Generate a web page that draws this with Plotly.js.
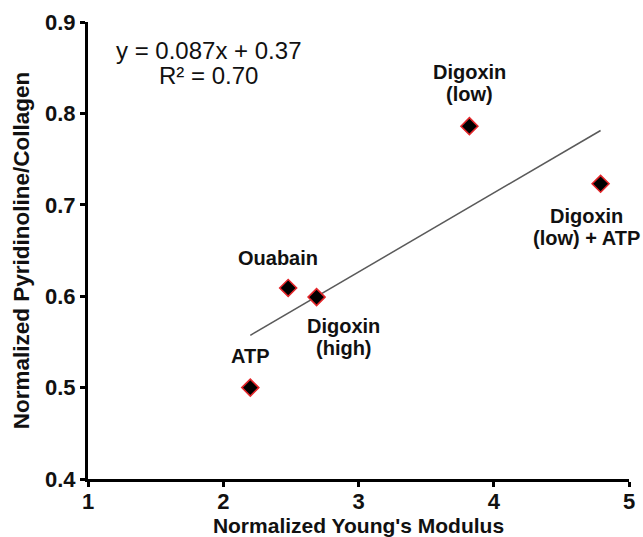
<!DOCTYPE html>
<html>
<head>
<meta charset="utf-8">
<script src="https://cdn.plot.ly/plotly-3.0.1.min.js"></script>
<style>html,body{margin:0;padding:0;background:#fff;}#chart{width:643px;height:537px;}</style>
</head>
<body>
<div id="chart"></div>
<script>
// Data
const conditions = ["ATP", "Ouabain", "Digoxin\n(high)", "Digoxin\n(low)", "Digoxin\n(low) + ATP"];
const youngsModulus = [2.20, 2.48, 2.69, 3.82, 4.79];
const pyridinoline = [0.500, 0.609, 0.599, 0.786, 0.723];
const xTicks = [1, 2, 3, 4, 5];
const yTicks = [0.4, 0.5, 0.6, 0.7, 0.8, 0.9];
const equationLines = ["y = 0.087x + 0.37", "R\u00b2 = 0.70"];

// label placement (pixel offsets from each point: dx, dy of block centre)
const labelShiftX = [0, -10, 27, 0, -14];
const labelShiftY = [32, 30, -40, 43, -43];

// least-squares trendline through the data
const n = youngsModulus.length;
const mx = youngsModulus.reduce((a, b) => a + b, 0) / n;
const my = pyridinoline.reduce((a, b) => a + b, 0) / n;
let sxy = 0, sxx = 0;
for (let i = 0; i < n; i++) {
  sxy += (youngsModulus[i] - mx) * (pyridinoline[i] - my);
  sxx += (youngsModulus[i] - mx) ** 2;
}
const slope = sxy / sxx, intercept = my - slope * mx;
const xMin = Math.min(...youngsModulus), xMax = Math.max(...youngsModulus);
const trendX = [xMin, xMax];
const trendY = trendX.map(x => intercept + slope * x);

const FONT = "Arial, 'Liberation Sans', sans-serif";

const traces = [
  {
    x: trendX, y: trendY, mode: "lines", type: "scatter",
    line: {color: "#5a5a5a", width: 1.5}, hoverinfo: "skip"
  },
  {
    x: youngsModulus, y: pyridinoline, mode: "markers", type: "scatter",
    marker: {symbol: "diamond", size: 13, color: "#000", line: {color: "#e3262a", width: 1.6}},
    cliponaxis: false
  }
];

const annotations = [];
const lineGap = 22;
conditions.forEach((lab, i) => {
  const lines = lab.split("\n");
  lines.forEach((ln, j) => {
    const off = (j - (lines.length - 1) / 2) * lineGap;
    annotations.push({
      x: youngsModulus[i], y: pyridinoline[i], xref: "x", yref: "y",
      text: "<b>" + ln + "</b>", showarrow: false,
      xanchor: "center", yanchor: "middle",
      xshift: labelShiftX[i], yshift: labelShiftY[i] - off,
      font: {family: FONT, size: 20, color: "#111"}
    });
  });
});
equationLines.forEach((ln, j) => {
  annotations.push({
    x: 1.89, y: 0.9, xref: "x", yref: "y",
    text: ln, showarrow: false, xanchor: "center", yanchor: "middle",
    yshift: -28 - j * 25,
    font: {family: FONT, size: 24, color: "#111"}
  });
});

const layout = {
  width: 643, height: 537,
  margin: {l: 88, r: 14, t: 22, b: 58, pad: 0},
  paper_bgcolor: "#fff", plot_bgcolor: "#fff",
  showlegend: false,
  font: {family: FONT, color: "#111"},
  xaxis: {
    range: [1, 5], tickvals: xTicks, ticktext: xTicks.map(String),
    showgrid: false, zeroline: false,
    showline: true, linecolor: "#000", linewidth: 3,
    ticks: "outside", ticklen: 5, tickwidth: 3, tickcolor: "#000",
    tickfont: {family: FONT, size: 22, color: "#111", weight: "bold"},
    ticklabelstandoff: -4,
    title: {text: "<b>Normalized Young's Modulus</b>", font: {family: FONT, size: 21, color: "#111"}, standoff: 13}
  },
  yaxis: {
    range: [0.4, 0.9], tickvals: yTicks, ticktext: yTicks.map(v => v.toFixed(1)),
    showgrid: false, zeroline: false,
    showline: true, linecolor: "#000", linewidth: 3,
    ticks: "outside", ticklen: 5, tickwidth: 3, tickcolor: "#000",
    tickfont: {family: FONT, size: 22, color: "#111", weight: "bold"},
    ticklabelstandoff: 0,
    title: {text: "<b>Normalized Pyridinoline/Collagen</b>", font: {family: FONT, size: 22.5, color: "#111"}, standoff: 10}
  },
  annotations: annotations
};

Plotly.newPlot("chart", traces, layout, {displayModeBar: false, staticPlot: true});
</script>
</body>
</html>
